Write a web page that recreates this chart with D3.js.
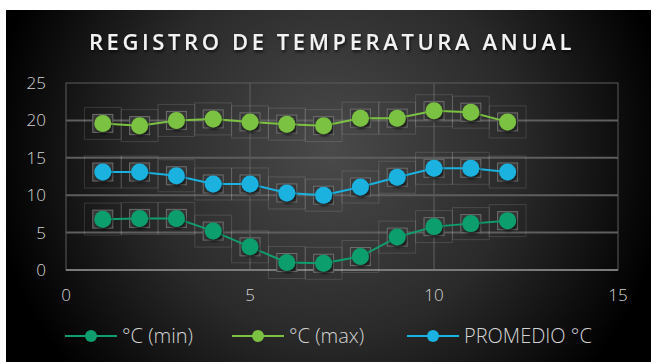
<!DOCTYPE html>
<html>
<head>
<meta charset="utf-8">
<script src="https://cdn.jsdelivr.net/npm/d3@7"></script>
<style>
  body { margin: 0; background: #fff; }
  svg { display: block; }
  text { font-family: "Open Sans", "DejaVu Sans", sans-serif; }
</style>
</head>
<body>
<svg width="652" height="362"></svg>
<script>
var months = [1, 2, 3, 4, 5, 6, 7, 8, 9, 10, 11, 12];
var tMin = [6.8, 6.9, 6.9, 5.2, 3.1, 1.0, 0.9, 1.8, 4.4, 5.8, 6.2, 6.6];
var tMax = [19.6, 19.3, 20.0, 20.2, 19.8, 19.5, 19.3, 20.3, 20.3, 21.3, 21.1, 19.8];
var tAvg = [13.1, 13.1, 12.6, 11.5, 11.5, 10.3, 10.0, 11.1, 12.4, 13.6, 13.6, 13.1];
var xTicks = [0, 5, 10, 15];
var yTicks = [0, 5, 10, 15, 20, 25];

var series = [
    { name: "\u00B0C (min)", values: tMin, color: "#0f9e6e" },
    { name: "\u00B0C (max)", values: tMax, color: "#7cc242" },
    { name: "PROMEDIO \u00B0C", values: tAvg, color: "#1ab2e0" }
];

var svg = d3.select("svg");
var margin = { left: 66, right: 34, top: 83, bottom: 92 };
var width = 652, height = 362;

var x = d3.scaleLinear().domain([0, 15]).range([margin.left, width - margin.right]);
var y = d3.scaleLinear().domain([0, 25]).range([height - margin.bottom, margin.top]);

// background
var defs = svg.append("defs");
var grad = defs.append("radialGradient")
    .attr("id", "bg")
    .attr("gradientUnits", "userSpaceOnUse")
    .attr("cx", 330).attr("cy", 150).attr("r", 340);
grad.append("stop").attr("offset", "0%").attr("stop-color", "#4a4a4a");
grad.append("stop").attr("offset", "55%").attr("stop-color", "#2a2a2a");
grad.append("stop").attr("offset", "100%").attr("stop-color", "#000");

var shadow = defs.append("filter").attr("id", "sh")
    .attr("x", "-50%").attr("y", "-50%").attr("width", "200%").attr("height", "200%");
shadow.append("feDropShadow").attr("dx", 1).attr("dy", 2).attr("stdDeviation", 1.5)
    .attr("flood-color", "#000").attr("flood-opacity", 0.7);

svg.append("rect")
    .attr("x", 6).attr("y", 10)
    .attr("width", 645).attr("height", 352)
    .attr("fill", "url(#bg)");

// title
svg.append("text")
    .attr("x", 332).attr("y", 50)
    .attr("text-anchor", "middle")
    .attr("fill", "#f2f2f2")
    .attr("font-size", 22)
    .attr("font-weight", 600)
    .attr("letter-spacing", 3.6)
    .attr("filter", "url(#sh)")
    .text("REGISTRO DE TEMPERATURA ANUAL");

// plot frame and grid
var grid = svg.append("g");
grid.append("rect")
    .attr("x", x(0)).attr("y", y(25))
    .attr("width", x(15) - x(0)).attr("height", y(0) - y(25))
    .attr("fill", "none").attr("stroke", "#5c5c5c").attr("stroke-width", 1);

grid.selectAll("line.h")
    .data(yTicks.filter(function(d) { return d > 0 && d < 25; }))
    .enter().append("line")
    .attr("class", "h")
    .attr("x1", x(0)).attr("x2", x(15))
    .attr("y1", function(d) { return y(d); })
    .attr("y2", function(d) { return y(d); })
    .attr("stroke", "#5e5e5e").attr("stroke-width", 2);

grid.selectAll("line.v")
    .data([5, 10])
    .enter().append("line")
    .attr("class", "v")
    .attr("x1", function(d) { return x(d); })
    .attr("x2", function(d) { return x(d); })
    .attr("y1", y(25)).attr("y2", y(0))
    .attr("stroke", "#5a5a5a").attr("stroke-width", 1.2);

grid.append("line")
    .attr("x1", x(0)).attr("x2", x(15))
    .attr("y1", y(0)).attr("y2", y(0))
    .attr("stroke", "#7a7a7a").attr("stroke-width", 2);

// axis labels
svg.selectAll("text.yt")
    .data(yTicks)
    .enter().append("text")
    .attr("class", "yt")
    .attr("x", 46)
    .attr("y", function(d) { return y(d) + 6; })
    .attr("text-anchor", "end")
    .attr("fill", "#d4d4d4")
    .attr("font-size", 17)
    .attr("font-weight", 300)
    .text(function(d) { return d; });

svg.selectAll("text.xt")
    .data(xTicks)
    .enter().append("text")
    .attr("class", "xt")
    .attr("x", function(d) { return x(d); })
    .attr("y", 301)
    .attr("text-anchor", "middle")
    .attr("fill", "#d4d4d4")
    .attr("font-size", 17)
    .attr("font-weight", 300)
    .text(function(d) { return d; });

// faint boxes around the points
var boxes = svg.append("g");
series.forEach(function(s) {
    boxes.selectAll(null)
        .data(s.values)
        .enter().append("rect")
        .attr("x", function(d, i) { return x(months[i] - 0.5); })
        .attr("y", function(d) { return y(d) - 16; })
        .attr("width", x(1) - x(0))
        .attr("height", 32)
        .attr("fill", "none")
        .attr("stroke", "rgba(255,255,255,0.13)");
});

// lines and markers
var line = d3.line()
    .x(function(d, i) { return x(months[i]); })
    .y(function(d) { return y(d); });

var sg = svg.selectAll("g.series")
    .data(series)
    .enter().append("g")
    .attr("class", "series");

sg.selectAll("rect.sq")
    .data(function(s) { return s.values; })
    .enter().append("rect")
    .attr("class", "sq")
    .attr("x", function(d, i) { return x(months[i]) - 10; })
    .attr("y", function(d) { return y(d) - 9; })
    .attr("width", 20).attr("height", 18)
    .attr("fill", "#383838")
    .attr("stroke", "#6e6e6e").attr("stroke-width", 1);

sg.append("path")
    .attr("d", function(s) { return line(s.values); })
    .attr("fill", "none")
    .attr("stroke", function(s) { return s.color; })
    .attr("stroke-width", 2);

sg.each(function(s) {
    d3.select(this).selectAll("circle")
        .data(s.values)
        .enter().append("circle")
        .attr("cx", function(d, i) { return x(months[i]); })
        .attr("cy", function(d) { return y(d); })
        .attr("r", 8.5)
        .attr("fill", s.color)
        .attr("filter", "url(#sh)");
});

// legend
var legendX = [65, 232, 407];
var lg = svg.selectAll("g.legend")
    .data(series)
    .enter().append("g")
    .attr("class", "legend")
    .attr("transform", function(d, i) { return "translate(" + legendX[i] + ",336)"; });

lg.append("line")
    .attr("x1", 0).attr("x2", 52)
    .attr("stroke", function(d) { return d.color; })
    .attr("stroke-width", 2);

lg.append("circle")
    .attr("cx", 26).attr("r", 6)
    .attr("fill", function(d) { return d.color; });

lg.append("text")
    .attr("x", 57).attr("y", 7)
    .attr("fill", "#d4d4d4")
    .attr("font-size", 20)
    .attr("font-weight", 300)
    .text(function(d) { return d.name; });
</script>
</body>
</html>
